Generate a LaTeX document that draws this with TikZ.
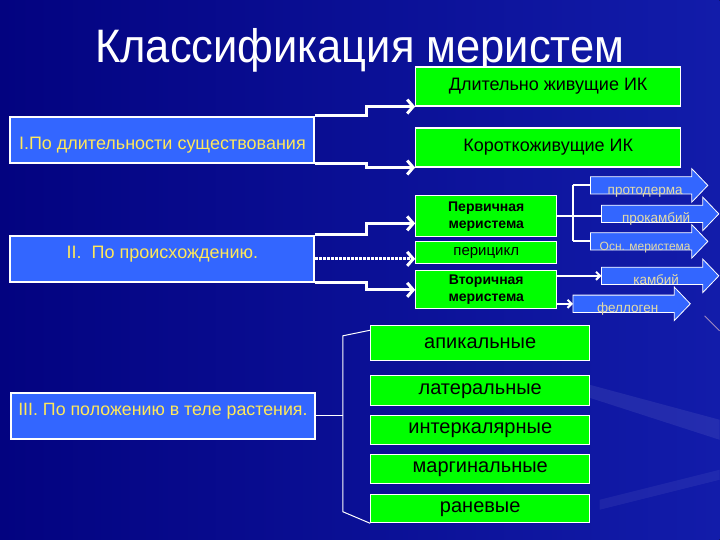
\documentclass[tikz,border=0pt]{standalone}
\usepackage{fontspec}
\setmainfont{Liberation Sans}
\usetikzlibrary{arrows.meta}
\definecolor{bgl}{RGB}{3,3,128}
\definecolor{bgr}{RGB}{18,28,170}
\definecolor{gfill}{RGB}{0,255,0}
\definecolor{bfill}{RGB}{51,102,255}
\definecolor{ytext}{RGB}{255,232,90}
\definecolor{atext}{RGB}{228,218,165}
\pgfdeclarelayer{bglayer}
\pgfdeclarelayer{arrowlayer}
\pgfsetlayers{bglayer,arrowlayer,main}
\newcommand{\MyArrow}[5]{%
  \node[abody, font=\fontsize{#5}{14}\selectfont] (#1) at (#2,#3) {\raisebox{-9pt}{\hspace*{8pt}#4}};
  \begin{pgfonlayer}{arrowlayer}
    \draw[ashape] (#1.north west) -- (#1.north east) -- ([yshift=8pt]#1.north east)
      -- ([xshift=16pt]#1.east) -- ([yshift=-8pt]#1.south east) -- (#1.south east)
      -- (#1.south west) -- cycle;
  \end{pgfonlayer}}
\begin{document}
\begin{tikzpicture}[x=1pt,y=-1pt,
  gbox/.style={draw=white, line width=1.2pt, fill=gfill, text=black, inner sep=0pt, align=center},
  bbox/.style={draw=white, line width=2pt, fill=bfill, text=ytext, inner sep=0pt, text height=6.5pt, text depth=6.5pt},
  abody/.style={inner sep=0pt, text=atext, minimum width=101, minimum height=17, text height=8.5pt, text depth=8.5pt},
  ashape/.style={draw=white, line width=0.8pt, fill=bfill},
  wline/.style={draw=white, line width=3pt},
  wline2/.style={draw=white, line width=2pt},
  bline/.style={draw=white, line width=1pt},
  wtip/.style={-{Straight Barb[length=6pt,width=14pt]}},
  stip/.style={-{Straight Barb[length=4pt,width=8pt]}}
]
\begin{pgfonlayer}{bglayer}
\fill[left color=bgl, right color=bgr] (0,0) rectangle (720,540);
\fill[white, opacity=0.08] (590,385) -- (720,420) -- (720,440) -- (590,398) -- cycle;
\fill[white, opacity=0.06] (600,500) -- (720,470) -- (720,480) -- (600,510) -- cycle;
\draw[pink!70, opacity=0.6, line width=0.8pt] (705,316) -- (720,331);
\end{pgfonlayer}
\useasboundingbox (0,0) rectangle (720,540);

% title
\node[text=white, font=\fontsize{47}{50}\selectfont, anchor=base, inner sep=0pt] (title) at (360,63) {\scalebox{0.925}[1]{Классификация меристем}};

% left category boxes
\node[bbox, minimum width=304, minimum height=46, font=\fontsize{18}{20}\selectfont] (b1) at (162.5,140) {\raisebox{-10pt}{I.По длительности существования}};
\node[bbox, minimum width=304, minimum height=46, font=\fontsize{18}{20}\selectfont] (b2) at (162.5,259) {II.\ \ По происхождению.};
\node[bbox, minimum width=304, minimum height=46, font=\fontsize{17.8}{20}\selectfont] (b3) at (163,416) {III. По положению в теле растения.};

% green boxes
\node[gbox, minimum width=265, minimum height=39, font=\fontsize{18}{20}\selectfont] (long) at (548.5,86.5) {Длительно живущие ИК};
\node[gbox, minimum width=265, minimum height=39, font=\fontsize{18}{20}\selectfont] (short) at (548.5,147.5) {Короткоживущие ИК};
\node[gbox, minimum width=141, minimum height=41, font=\bfseries\fontsize{14}{17}\selectfont] (prim) at (486.5,216.5) {Первичная\\меристема};
\node[gbox, minimum width=141, minimum height=22, font=\fontsize{15}{17}\selectfont] (peri) at (486.5,253) {перицикл};
\node[gbox, minimum width=141, minimum height=38, font=\bfseries\fontsize{14}{17}\selectfont] (sec) at (486.5,290) {Вторичная\\меристема};

\node[gbox, minimum width=219, minimum height=35, font=\fontsize{20}{22}\selectfont] (ap) at (480.5,343.5) {апикальные};
\node[gbox, minimum width=219, minimum height=30, font=\fontsize{20}{22}\selectfont] (lat) at (480.5,391) {латеральные};
\node[gbox, minimum width=219, minimum height=29, font=\fontsize{20}{22}\selectfont] (int) at (480.5,430.5) {интеркалярные};
\node[gbox, minimum width=219, minimum height=29, font=\fontsize{20}{22}\selectfont] (mar) at (480.5,469.5) {маргинальные};
\node[gbox, minimum width=219, minimum height=28, font=\fontsize{20}{22}\selectfont] (ran) at (480.5,509) {раневые};

% block arrows
\MyArrow{a1}{641.5}{185.5}{протодерма}{13.5}
\MyArrow{a2}{652.5}{214}{прокамбий}{13.5}
\MyArrow{a3}{641.5}{241.5}{Осн. меристема}{12}
\MyArrow{a4}{652.5}{276}{камбий}{13.5}
\MyArrow{a5}{624}{304}{феллоген}{13.5}

% connectors group I
\draw[wline, wtip] (b1.north east) -- ++(51,0) |- (long.south west);
\draw[wline, wtip] (b1.south east) -- ++(51,0) |- (short.south west);

% connectors group II
\draw[wline, wtip] (b2.north east) -- ++(51,0) |- ([yshift=-7pt]prim.west);
\draw[wline, densely dotted, wtip] (b2.east) -- (b2.east -| peri.west);
\draw[wline, wtip] (b2.south east) -- ++(51,0) |- (sec.west);

% primary meristem branches
\coordinate (br) at (573,216.5);
\draw[wline2] (prim.east) -- (prim.east -| a2.west);
\draw[wline2] (br |- a1.west) -- (br |- a3.west);
\draw[wline2] (br |- a1.west) -- (a1.west);
\draw[wline2] (br |- a3.west) -- (a3.west);

% secondary meristem branches
\draw[wline2, stip] (sec.east |- a4.west) -- (a4.west);
\draw[wline2, stip] (sec.east |- a5.west) -- (a5.west);

% group III bracket
\coordinate (bk) at (343,416);
\coordinate (bt) at (343,336);
\coordinate (bb) at (343,512);
\draw[bline] (b3.east) -- (bk);
\draw[bline] ([yshift=-5pt]ap.north west) -- (bt) -- (bb) -- (ran.south west);
\end{tikzpicture}
\end{document}
